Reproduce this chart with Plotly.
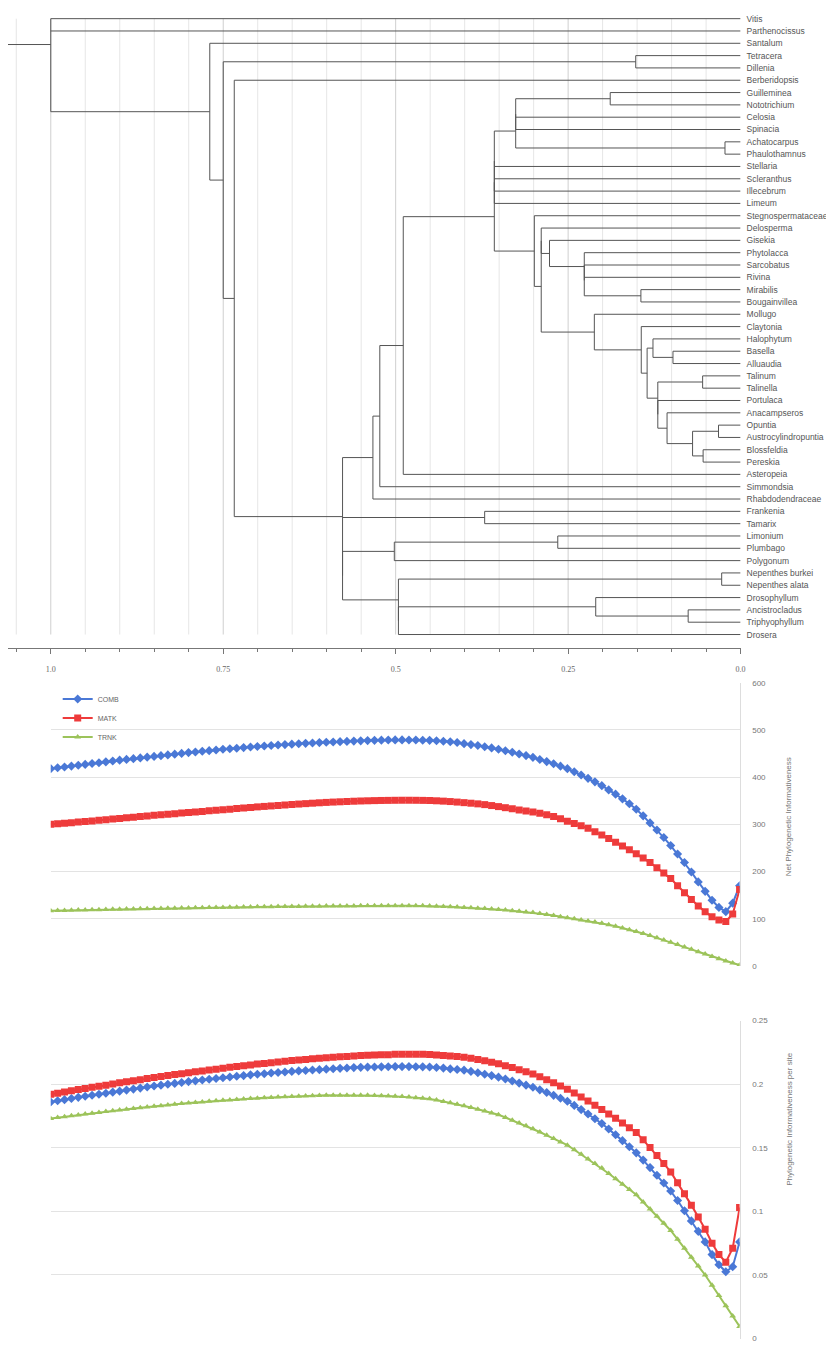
import plotly.graph_objects as go

W, H = 834, 1349
PAGE_OFFSET = 8  # browser body margin that shifts the figure on the page

# ---------------- tree data ----------------
LEAVES = ["Vitis", "Parthenocissus", "Santalum", "Tetracera", "Dillenia", "Berberidopsis",
          "Guilleminea", "Nototrichium", "Celosia", "Spinacia", "Achatocarpus", "Phaulothamnus",
          "Stellaria", "Scleranthus", "Illecebrum", "Limeum", "Stegnospermataceae", "Delosperma",
          "Gisekia", "Phytolacca", "Sarcobatus", "Rivina", "Mirabilis", "Bougainvillea", "Mollugo",
          "Claytonia", "Halophytum", "Basella", "Alluaudia", "Talinum", "Talinella", "Portulaca",
          "Anacampseros", "Opuntia", "Austrocylindropuntia", "Blossfeldia", "Pereskia", "Asteropeia",
          "Simmondsia", "Rhabdodendraceae", "Frankenia", "Tamarix", "Limonium", "Plumbago",
          "Polygonum", "Nepenthes burkei", "Nepenthes alata", "Drosophyllum", "Ancistrocladus",
          "Triphyophyllum", "Drosera"]

# internal node -> (height on axis, children)
TREE = {
    "root": (1.0, ["Vitis", "Parthenocissus", "A"]),
    "A": (0.7695, ["Santalum", "B"]),
    "B": (0.750, ["TD", "C"]),
    "TD": (0.152, ["Tetracera", "Dillenia"]),
    "C": (0.734, ["Berberidopsis", "D"]),
    "D": (0.577, ["E", "FT", "D2"]),
    "E": (0.533, ["F", "Rhabdodendraceae"]),
    "F": (0.523, ["G", "Simmondsia"]),
    "G": (0.489, ["H", "Asteropeia"]),
    "H": (0.357, ["Q", "R"]),
    "Q": (0.357, ["Q1", "Limeum"]),
    "Q1": (0.357, ["N1", "Stellaria", "Scleranthus", "Illecebrum"]),
    "N1": (0.326, ["N1a", "AP"]),
    "N1a": (0.326, ["GN", "Celosia", "Spinacia"]),
    "GN": (0.189, ["Guilleminea", "Nototrichium"]),
    "AP": (0.0226, ["Achatocarpus", "Phaulothamnus"]),
    "R": (0.299, ["Stegnospermataceae", "S"]),
    "S": (0.289, ["S1", "T"]),
    "S1": (0.289, ["Delosperma", "J"]),
    "J": (0.277, ["Gisekia", "K"]),
    "K": (0.2266, ["Phytolacca", "K2"]),
    "K2": (0.2266, ["Sarcobatus", "Rivina", "MB"]),
    "MB": (0.1445, ["Mirabilis", "Bougainvillea"]),
    "T": (0.212, ["Mollugo", "U"]),
    "U": (0.144, ["Claytonia", "V"]),
    "V": (0.1355, ["W", "X"]),
    "W": (0.127, ["Halophytum", "BA"]),
    "BA": (0.098, ["Basella", "Alluaudia"]),
    "X": (0.120, ["TT", "X2"]),
    "TT": (0.055, ["Talinum", "Talinella"]),
    "X2": (0.120, ["Portulaca", "Y"]),
    "Y": (0.1066, ["Anacampseros", "Z"]),
    "Z": (0.0696, ["OA", "BP"]),
    "OA": (0.032, ["Opuntia", "Austrocylindropuntia"]),
    "BP": (0.0543, ["Blossfeldia", "Pereskia"]),
    "FT": (0.371, ["Frankenia", "Tamarix"]),
    "D2": (0.577, ["LPP", "NDD"]),
    "LPP": (0.502, ["LP", "Polygonum"]),
    "LP": (0.265, ["Limonium", "Plumbago"]),
    "NDD": (0.496, ["Nep", "NDD2"]),
    "Nep": (0.0274, ["Nepenthes burkei", "Nepenthes alata"]),
    "NDD2": (0.496, ["DAT", "Drosera"]),
    "DAT": (0.21, ["Drosophyllum", "AT"]),
    "AT": (0.076, ["Ancistrocladus", "Triphyophyllum"]),
}
ROOT_STEM_START = 1.062
ROOT_STEM_POS = 2.1

AXIS_TICKS = [1.0, 0.75, 0.5, 0.25, 0.0]
AXIS_TEXT = ["1.0", "0.75", "0.5", "0.25", "0.0"]
GRID_STEP = 0.05

# ---------------- line-chart data ----------------
T = [round(1 - i / 100, 2) for i in range(101)]

COMB_NET = [418, 419.8, 421.6, 423.4, 425.2, 427, 428.8, 430.6, 432.4, 434.2,
            436, 437.6, 439.2, 440.8, 442.4, 444, 445.6, 447.2, 448.8, 450.4,
            452, 453.4, 454.8, 456.2, 457.6, 459, 460.2, 461.4, 462.6, 463.8,
            465, 466, 467, 468, 469, 470, 470.8, 471.6, 472.4, 473.2,
            474, 474.6, 475.2, 475.8, 476.4, 477, 477.5, 478, 478.4, 478.7,
            479, 479, 478.8, 478.6, 478.3, 478, 477.2, 476.2, 475, 473.3,
            471, 469, 467, 464.6, 462, 459, 456, 452.7, 449.2, 445.7,
            442, 437.5, 433, 428.3, 423.3, 418, 411.5, 404.5, 397.5, 390,
            382, 373, 364, 354, 343.5, 332, 318, 303, 288, 272,
            255, 237, 219, 199, 178, 158, 139, 124, 115, 133,
            170]
MATK_NET = [300, 301.2, 302.4, 303.6, 304.8, 306, 307.3, 308.6, 309.9, 311.2,
            312.5, 313.8, 315.1, 316.4, 317.7, 319, 320.2, 321.4, 322.6, 323.8,
            325, 326.2, 327.4, 328.6, 329.8, 331, 332.2, 333.4, 334.6, 335.8,
            337, 338, 339, 340, 341, 342, 343, 343.9, 344.8, 345.7,
            346.5, 347.2, 347.8, 348.4, 349, 349.5, 349.9, 350.3, 350.6, 350.8,
            351, 351.1, 351.1, 351, 350.8, 350.5, 349.9, 349.2, 348.3, 347.2,
            346, 344.8, 343.4, 341.8, 339.8, 337.6, 335.3, 333, 330.6, 328.2,
            326, 323.5, 320.3, 316.5, 311.8, 306.5, 302, 297, 291.5, 284.5,
            277.5, 270, 262, 254, 246, 237.5, 228.5, 219, 208, 197,
            185, 170, 155, 140.5, 127, 115, 104, 97, 94, 110,
            162]
TRNK_NET = [117, 117.3, 117.6, 118, 118.3, 118.6, 118.9, 119.2, 119.5, 119.8,
            120.1, 120.4, 120.7, 121, 121.2, 121.5, 121.8, 122, 122.3, 122.5,
            122.8, 123, 123.3, 123.5, 123.8, 124, 124.2, 124.4, 124.7, 124.9,
            125.1, 125.3, 125.5, 125.7, 125.8, 126, 126.1, 126.3, 126.4, 126.6,
            126.7, 126.8, 126.9, 127, 127.1, 127.2, 127.3, 127.3, 127.4, 127.4,
            127.4, 127.4, 127.3, 127.3, 127.2, 126.9, 126.5, 126, 125.4, 124.7,
            124, 123.2, 122.3, 121.4, 120.5, 119.5, 118.3, 117, 115.7, 114.4,
            113, 111, 108.9, 106.7, 104.4, 102, 99.7, 97.4, 95.1, 92.8,
            90.5, 87.4, 84, 80.5, 76.8, 73, 68.7, 64.2, 59.6, 54.9,
            50, 45.1, 40.1, 35.1, 30.1, 25, 20, 15.2, 10.5, 6,
            2]

COMB_SITE = [.1860, .1869, .1878, .1887, .1896, .1905, .1913, .1921, .1929, .1937,
             .1945, .1953, .1961, .1969, .1977, .1985, .1992, .1999, .2006, .2013,
             .2020, .2026, .2032, .2038, .2044, .2050, .2056, .2062, .2067, .2073,
             .2078, .2082, .2087, .2091, .2096, .2100, .2104, .2107, .2111, .2114,
             .2118, .2121, .2124, .2127, .2130, .2132, .2134, .2135, .2136, .2137,
             .2138, .2138, .2138, .2137, .2136, .2135, .2131, .2126, .2120, .2115,
             .2110, .2100, .2090, .2078, .2067, .2055, .2040, .2025, .2008, .1992,
             .1975, .1955, .1934, .1912, .1889, .1865, .1833, .1800, .1765, .1728,
             .1690, .1647, .1602, .1556, .1508, .1460, .1403, .1344, .1284, .1223,
             .1160, .1085, .1005, .0925, .0843, .0760, .0660, .0580, .0525, .0565,
             .0760]
MATK_SITE = [.1920, .1929, .1938, .1948, .1957, .1966, .1975, .1984, .1992, .2001,
             .2010, .2018, .2027, .2035, .2044, .2052, .2060, .2067, .2075, .2082,
             .2090, .2097, .2104, .2111, .2118, .2125, .2132, .2138, .2145, .2151,
             .2158, .2163, .2169, .2174, .2180, .2185, .2190, .2194, .2199, .2203,
             .2208, .2211, .2215, .2218, .2222, .2225, .2227, .2229, .2231, .2232,
             .2234, .2235, .2235, .2235, .2234, .2233, .2230, .2226, .2222, .2217,
             .2212, .2203, .2193, .2183, .2172, .2160, .2145, .2130, .2114, .2097,
             .2080, .2058, .2035, .2011, .1986, .1960, .1930, .1899, .1867, .1834,
             .1800, .1766, .1731, .1695, .1658, .1620, .1562, .1502, .1440, .1376,
             .1310, .1225, .1138, .1049, .0956, .0860, .0750, .0660, .0600, .0710,
             .1030]
TRNK_SITE = [.1730, .1737, .1744, .1751, .1758, .1765, .1771, .1778, .1784, .1791,
             .1797, .1803, .1809, .1814, .1820, .1826, .1831, .1836, .1842, .1847,
             .1852, .1856, .1860, .1865, .1869, .1873, .1876, .1880, .1883, .1887,
             .1890, .1893, .1895, .1898, .1900, .1903, .1905, .1907, .1908, .1910,
             .1912, .1912, .1913, .1913, .1913, .1913, .1912, .1910, .1909, .1907,
             .1905, .1902, .1898, .1894, .1890, .1885, .1875, .1864, .1853, .1842,
             .1830, .1816, .1802, .1788, .1774, .1760, .1738, .1716, .1694, .1672,
             .1650, .1624, .1598, .1572, .1546, .1520, .1484, .1448, .1412, .1376,
             .1340, .1298, .1256, .1214, .1172, .1130, .1074, .1018, .0962, .0906,
             .0850, .0780, .0710, .0640, .0570, .0500, .0419, .0338, .0258, .0177,
             .0096]

SERIES = ["COMB", "MATK", "TRNK"]
COLORS = {"COMB": "#4a78d6", "MATK": "#ee3b3b", "TRNK": "#9cc35a"}
SYMBOLS = {"COMB": "diamond", "MATK": "square", "TRNK": "triangle-up"}
MSIZE = {"COMB": 7, "MATK": 7, "TRNK": 6}
NET_TICKS = [0, 100, 200, 300, 400, 500, 600]
SITE_TICKS = [0, 0.05, 0.1, 0.15, 0.2, 0.25]
SITE_TEXT = ["0", "0.05", "0.1", "0.15", "0.2", "0.25"]

# ---------------- tree layout ----------------
leaf_pos = {name: i for i, name in enumerate(LEAVES)}
pos = {}


def place(n):
    if n in leaf_pos:
        pos[n] = (0.0, float(leaf_pos[n]))
        return pos[n]
    h, ch = TREE[n]
    ys = [place(c)[1] for c in ch]
    pos[n] = (h, (ys[0] + ys[-1]) / 2)
    return pos[n]


place("root")
sx, sy = [], []
for n, (h, ch) in TREE.items():
    ys = [pos[c][1] for c in ch]
    sx += [h, h, None]
    sy += [ys[0], ys[-1], None]
    for c in ch:
        sx += [h, pos[c][0], None]
        sy += [pos[c][1], pos[c][1], None]
sx += [ROOT_STEM_START, pos["root"][0], None]
sy += [ROOT_STEM_POS, ROOT_STEM_POS, None]

fig = go.Figure()
fig.add_trace(go.Scatter(x=sx, y=sy, mode="lines", line=dict(color="#555555", width=1),
                         xaxis="x", yaxis="y", showlegend=False, hoverinfo="skip"))

shapes = []
k = 1
while k * GRID_STEP <= ROOT_STEM_START + 1e-9:
    g = round(k * GRID_STEP, 2)
    major = abs(g / 0.25 - round(g / 0.25)) < 1e-6
    shapes.append(dict(type="line", xref="x", yref="y", x0=g, x1=g, y0=0, y1=len(LEAVES) - 1,
                       line=dict(color="#cfcfcf" if major else "#e6e6e6", width=1), layer="below"))
    k += 1

# ---------------- line charts ----------------
net = {"COMB": COMB_NET, "MATK": MATK_NET, "TRNK": TRNK_NET}
site = {"COMB": COMB_SITE, "MATK": MATK_SITE, "TRNK": TRNK_SITE}
for s in SERIES:
    fig.add_trace(go.Scatter(x=T, y=net[s], name=s, mode="lines+markers",
                             line=dict(color=COLORS[s], width=2),
                             marker=dict(symbol=SYMBOLS[s], size=MSIZE[s], color=COLORS[s]),
                             xaxis="x2", yaxis="y2", legendgroup=s))
for s in SERIES:
    fig.add_trace(go.Scatter(x=T, y=site[s], name=s, mode="lines+markers",
                             line=dict(color=COLORS[s], width=2),
                             marker=dict(symbol=SYMBOLS[s], size=MSIZE[s], color=COLORS[s]),
                             xaxis="x3", yaxis="y3", showlegend=False, legendgroup=s))


def fx(px):
    return (px - PAGE_OFFSET) / W


def fy(py):
    return (H - (py - PAGE_OFFSET)) / H


# tree rows: leaf 0 at page y 14.7, spacing 12.4 px; domain spans page y 8..648
ROW0, ROW_STEP = 14.7, 12.4
tree_top_idx = (PAGE_OFFSET - ROW0) / ROW_STEP
tree_bot_idx = (648 - ROW0) / ROW_STEP

FONT = "Liberation Sans"
n_leaf = len(LEAVES)
fig.update_layout(
    width=W, height=H, margin=dict(l=0, r=0, t=0, b=0),
    paper_bgcolor="white", plot_bgcolor="white",
    font=dict(family=FONT, size=9, color="#555555"),
    shapes=shapes,
    xaxis=dict(domain=[fx(8), fx(745)], range=[ROOT_STEM_START, 0.0], anchor="y",
               showgrid=False, zeroline=False, showline=True, linecolor="#777777", linewidth=1,
               tickmode="array", tickvals=AXIS_TICKS, ticktext=AXIS_TEXT,
               ticks="outside", ticklen=5, tickcolor="#777777", ticklabelstandoff=9,
               tickfont=dict(size=8, color="#666666", family="Liberation Serif"),
               minor=dict(tickmode="linear", tick0=0, dtick=GRID_STEP, ticks="outside",
                          ticklen=3, tickcolor="#777777", showgrid=False)),
    yaxis=dict(domain=[fy(648), 1.0], range=[tree_bot_idx, tree_top_idx], anchor="x", side="right",
               showgrid=False, zeroline=False, showline=False, ticks="",
               tickmode="array", tickvals=list(range(n_leaf)), ticktext=LEAVES,
               ticklabelstandoff=5, tickfont=dict(size=8.5, color="#555555")),
    xaxis2=dict(domain=[fx(51), fx(744)], range=[1.0, 0.0], anchor="y2",
                showgrid=False, zeroline=False, showline=False, showticklabels=False, ticks=""),
    yaxis2=dict(domain=[fy(968.3), fy(683.3)], range=[0, 600], anchor="x2", side="right",
                tickmode="array", tickvals=NET_TICKS, showgrid=True, gridcolor="#e3e3e3",
                zeroline=False, showline=True, linecolor="#dddddd", ticks="",
                ticklabelstandoff=10, tickfont=dict(size=8, color="#777777")),
    xaxis3=dict(domain=[fx(51), fx(744)], range=[1.0, 0.0], anchor="y3",
                showgrid=False, zeroline=False, showline=False, showticklabels=False, ticks=""),
    yaxis3=dict(domain=[fy(1343.5), fy(1023.3)], range=[0, 0.25], anchor="x3", side="right",
                tickmode="array", tickvals=SITE_TICKS, ticktext=SITE_TEXT, showgrid=True,
                gridcolor="#e3e3e3", zeroline=False, showline=True, linecolor="#dddddd", ticks="",
                ticklabelstandoff=10, tickfont=dict(size=8, color="#777777")),
    legend=dict(x=fx(58), y=fy(685), xanchor="left", yanchor="top", bgcolor="rgba(0,0,0,0)",
                font=dict(size=7, color="#666666"), itemwidth=30, tracegroupgap=0),
    annotations=[
        dict(text="Net Phylogenetic Informativeness", xref="paper", yref="paper",
             x=fx(800), y=fy(818), textangle=-90, showarrow=False,
             font=dict(size=8, color="#777777")),
        dict(text="Phylogenetic Informativeness per site", xref="paper", yref="paper",
             x=fx(800), y=fy(1192), textangle=-90, showarrow=False,
             font=dict(size=8, color="#777777")),
    ],
)

fig.write_html("out.html")
